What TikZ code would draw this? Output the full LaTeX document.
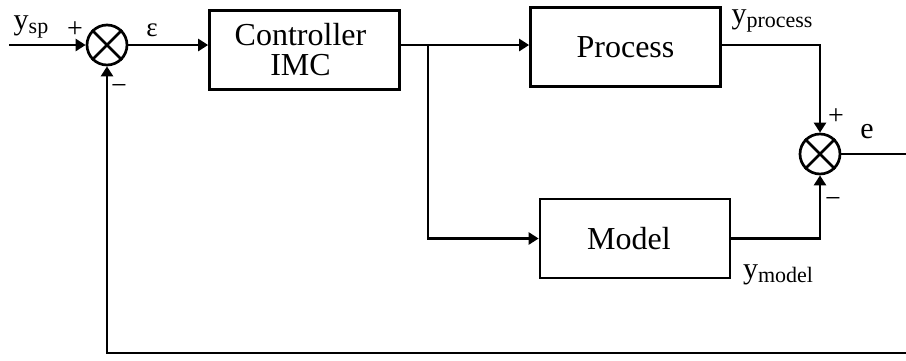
\documentclass[tikz,border=0pt]{standalone}
\usepackage{fontspec}
\setmainfont{Liberation Serif}
\usetikzlibrary{arrows.meta}
\newcommand{\lowsub}[1]{\raisebox{-0.3ex}{\fontsize{22}{24}\selectfont #1}}
\begin{document}
\begin{tikzpicture}[x=1pt,y=-1pt, line width=2.7pt,
  every node/.style={font=\fontsize{32}{30}\selectfont},
  blk/.style={draw, minimum width=190pt, minimum height=79pt, inner sep=0pt, align=center},
  summer/.style={draw, circle, minimum size=40pt, inner sep=0pt},
  lbl/.style={inner sep=0pt, font=\fontsize{30}{30}\selectfont},
  sgn/.style={inner sep=0pt, font=\fontsize{28}{28}\selectfont},
  arr/.style={-{Triangle[length=10pt,width=12pt]}}]
\useasboundingbox (0,0) rectangle (906,360);
% blocks
\node[blk] (ctrl) at (304.5,50) {};
\node[blk] (proc) at (625.5,47) {};
\node[blk] (mdl) at (635,238.5) {};
\node[inner sep=0pt, align=center] (tctrl) at ([xshift=-4pt]ctrl.center) {Controller\\IMC};
\node[inner sep=0pt] (tproc) at (proc.center) {Process};
\node[inner sep=0pt] (tmdl) at ([xshift=-6pt]mdl.center) {Model};
\node[summer] (s1) at (107,45) {};
\node[summer] (s2) at (820,154) {};
\draw (s1.north west) -- (s1.south east) (s1.north east) -- (s1.south west);
\draw (s2.north west) -- (s2.south east) (s2.north east) -- (s2.south west);
% coordinates
\coordinate (in) at (9,45);
\coordinate (br) at (428,45);
\coordinate (eout) at (906,154);
\coordinate (fb) at (906,353);
% connectors
\draw[arr] (in) -- (s1.west);
\draw[arr] (s1.east) -- (ctrl.west |- s1.east);
\draw (ctrl.east |- br) -- (br);
\draw[arr] (br) -- (proc.west |- br);
\draw[arr] (br) |- (mdl.west);
\draw[arr] (proc.east |- br) -| (s2.north);
\draw[arr] (mdl.east) -| (s2.south);
\draw (s2.east) -- (eout);
\draw[arr] (fb) -| (s1.south);
% labels
\node[lbl] (lysp) at (31,27) {y\lowsub{sp}};
\node[sgn] (lp1) at (75,30) {+};
\node[lbl, font=\fontsize{27}{28}\selectfont] (leps) at (152,30) {ε};
\node[sgn] (lm1) at (119,89) {−};
\node[lbl] (lyp) at (772,21) {y\lowsub{process}};
\node[sgn] (lp2) at (836,117) {+};
\node[lbl] (le) at (867,132) {e};
\node[sgn] (lm2) at (833,202) {−};
\node[lbl] (lym) at (778,275) {y\lowsub{model}};
\end{tikzpicture}
\end{document}
